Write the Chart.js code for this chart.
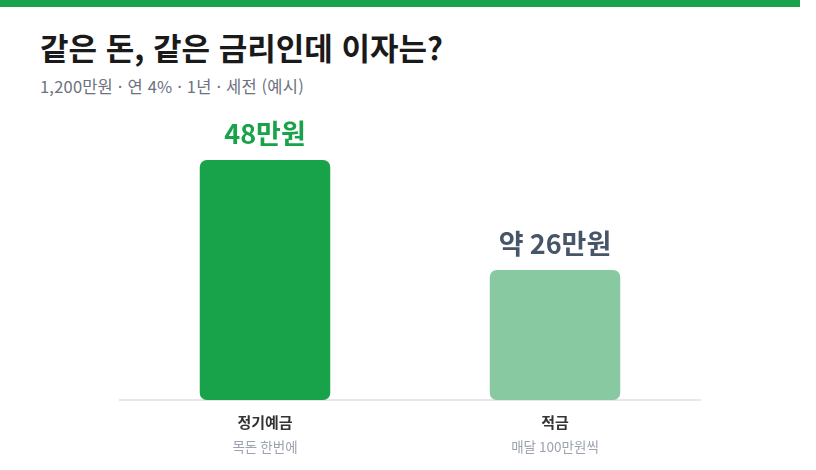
<!DOCTYPE html>
<html lang="ko">
<head>
<meta charset="utf-8">
<script src="https://cdn.jsdelivr.net/npm/chart.js@4.4.1/dist/chart.umd.min.js"></script>
<style>
  html, body { margin: 0; padding: 0; background: #fff; }
  body { width: 816px; height: 470px; position: relative; overflow: hidden; font-family: "Noto Sans CJK KR", "Noto Sans", sans-serif; }
  .topbar { position: absolute; left: 0; top: 0; width: 800px; height: 7px; background: #18a34a; }
  h1 { position: absolute; left: 40px; top: 27px; margin: 0; font-size: 31px; font-weight: 700; color: #1a1a1a; line-height: 40px; white-space: nowrap; }
  .sub { position: absolute; left: 40px; top: 76px; margin: 0; font-size: 16.5px; letter-spacing: 0.2px; color: #6b7280; line-height: 20px; white-space: nowrap; }
  #wrap { position: absolute; left: 0; top: 0; width: 816px; height: 470px; }
</style>
</head>
<body>
<div class="topbar"></div>
<h1>같은 돈, 같은 금리인데 이자는?</h1>
<p class="sub">1,200만원 · 연 4% · 1년 · 세전 (예시)</p>
<div id="wrap"><canvas id="chart"></canvas></div>
<script>
// 데이터
const categories = ["정기예금", "적금"];
const subLabels = ["목돈 한번에", "매달 100만원씩"];
const interest = [48, 26];          // 만원
const valueLabels = ["48만원", "약 26만원"];

const FONT = '"Noto Sans CJK KR", "Noto Sans", sans-serif';

// 막대 위 값 + 아래 카테고리 라벨
const labelPlugin = {
  id: "labels",
  afterDatasetsDraw(chart) {
    const { ctx } = chart;
    const meta = chart.getDatasetMeta(0);
    const xScale = chart.scales.x;
    ctx.save();
    ctx.textAlign = "center";
    ctx.textBaseline = "middle";
    meta.data.forEach((bar, i) => {
      ctx.font = `700 27px ${FONT}`;
      ctx.fillStyle = i === 0 ? "#18a34a" : "#475569";
      ctx.fillText(valueLabels[i], bar.x, bar.y - 26);

      const x = xScale.getPixelForValue(i);
      const base = chart.chartArea.bottom;
      ctx.font = `700 15px ${FONT}`;
      ctx.fillStyle = "#333333";
      ctx.fillText(categories[i], x, base + 22);
      ctx.font = `400 13.5px ${FONT}`;
      ctx.fillStyle = "#9ca3af";
      ctx.fillText(subLabels[i], x, base + 47);
    });
    ctx.restore();
  }
};

new Chart(document.getElementById("chart"), {
  type: "bar",
  data: {
    labels: categories,
    datasets: [{
      data: interest,
      backgroundColor: ["#18a34a", "#88c9a1"],
      borderRadius: 7,
      borderSkipped: false,
      categoryPercentage: 1,
      barPercentage: 0.45
    }]
  },
  options: {
    responsive: true,
    maintainAspectRatio: false,
    animation: false,
    layout: { padding: { left: 120, right: 116, top: 120, bottom: 62 } },
    scales: {
      x: {
        grid: { display: false },
        ticks: { display: false },
        border: { color: "#e5e7eb", width: 2 }
      },
      y: {
        display: false,
        min: 0,
        max: 56
      }
    },
    plugins: {
      legend: { display: false },
      tooltip: { enabled: false }
    }
  },
  plugins: [labelPlugin]
});
</script>
</body>
</html>
